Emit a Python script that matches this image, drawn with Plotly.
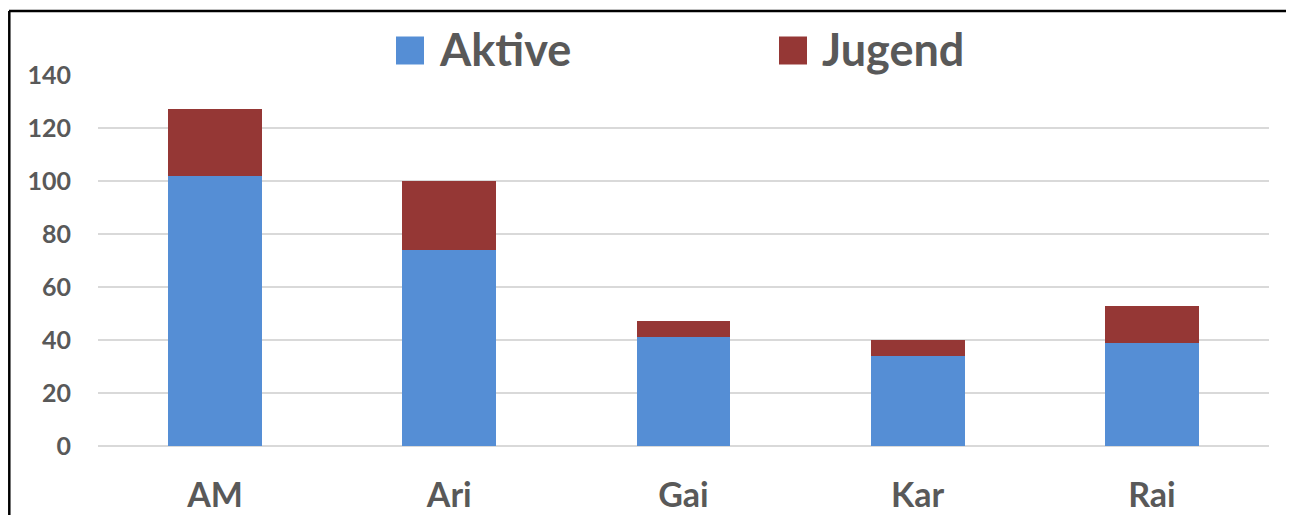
import plotly.graph_objects as go

categories = ["AM", "Ari", "Gai", "Kar", "Rai"]
aktive = [102, 74, 41, 34, 39]
jugend = [25, 26, 6, 6, 14]
series_names = ["Aktive", "Jugend"]
colors = ["#558ED5", "#953735"]
y_ticks = [0, 20, 40, 60, 80, 100, 120, 140]

TEXT = "#595959"
FONT = "Lato"

fig = go.Figure()
for name, vals, col in zip(series_names, [aktive, jugend], colors):
    fig.add_trace(go.Bar(x=categories, y=vals, name=name, marker_color=col,
                         marker_line_width=0, showlegend=False))

# page has an 8px body margin; figure is sized to fill the rest of the window
OFF = 8
W, H = 1294 - OFF, 515 - OFF
ml, mr, mt, mb = 98 - OFF, 25, 75 - OFF, 69
pw, ph = W - ml - mr, H - mt - mb

def px2x(px):
    return (px - OFF - ml) / pw

def py2y(py):
    return (H - mb - (py - OFF)) / ph

shapes = [
    dict(type="line", xref="paper", yref="paper", x0=px2x(9), x1=px2x(1300), y0=py2y(11), y1=py2y(11),
         line=dict(color="black", width=2.5)),
    dict(type="line", xref="paper", yref="paper", x0=px2x(9.3), x1=px2x(9.3), y0=py2y(11), y1=py2y(530),
         line=dict(color="black", width=2.5)),
    dict(type="line", xref="paper", yref="paper", x0=px2x(1292.5), x1=px2x(1292.5), y0=py2y(11), y1=py2y(530),
         line=dict(color="#BFBFBF", width=1.5)),
]
annotations = []
leg_x = [396, 779]
txt_x = [437, 820]
for name, col, sx, tx in zip(series_names, colors, leg_x, txt_x):
    shapes.append(dict(type="rect", xref="paper", yref="paper", x0=px2x(sx), x1=px2x(sx + 28),
                       y0=py2y(64.5), y1=py2y(36.5), fillcolor=col, line_width=0))
    annotations.append(dict(xref="paper", yref="paper", x=px2x(tx), y=py2y(49), xanchor="left",
                            yanchor="middle", showarrow=False, text=f"<b>{name}</b>",
                            font=dict(family=FONT, size=45, color=TEXT)))

fig.update_layout(
    barmode="stack",
    bargap=0.6,
    width=W, height=H,
    margin=dict(l=ml, r=mr, t=mt, b=mb, autoexpand=False),
    paper_bgcolor="white", plot_bgcolor="white",
    shapes=shapes,
    annotations=annotations,
    showlegend=False,
    font=dict(family=FONT, color=TEXT),
)
fig.update_yaxes(range=[0, 140], tickvals=y_ticks, ticktext=[f"<b>{v}</b>" for v in y_ticks],
                 showgrid=True, gridcolor="#D9D9D9", gridwidth=1.5,
                 zeroline=True, zerolinecolor="#D9D9D9", zerolinewidth=1.5,
                 showline=False, ticks="", ticklabelstandoff=26,
                 tickfont=dict(family=FONT, size=25, color=TEXT))
fig.update_xaxes(tickvals=categories, ticktext=[f"<b>{c}</b>" for c in categories],
                 showgrid=False, showline=False, ticks="", ticklabelstandoff=26,
                 tickfont=dict(family=FONT, size=34, color=TEXT))

fig.write_html("out.html")
